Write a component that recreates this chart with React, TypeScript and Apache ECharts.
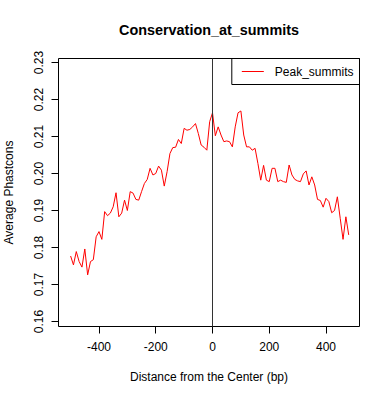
import React, { useEffect, useRef } from "react";
import * as echarts from "echarts";

const positions = [
  -500, -490, -480, -470, -460, -450, -440, -430, -420, -410,
  -400, -390, -380, -370, -360, -350, -340, -330, -320, -310,
  -300, -290, -280, -270, -260, -250, -240, -230, -220, -210,
  -200, -190, -180, -170, -160, -150, -140, -130, -120, -110,
  -100, -90, -80, -70, -60, -50, -40, -30, -20, -10,
  0, 10, 20, 30, 40, 50, 60, 70, 80, 90,
  100, 110, 120, 130, 140, 150, 160, 170, 180, 190,
  200, 210, 220, 230, 240, 250, 260, 270, 280, 290,
  300, 310, 320, 330, 340, 350, 360, 370, 380, 390,
  400, 410, 420, 430, 440, 450, 460, 470, 480,
];

const peakSummits = [
  0.1777, 0.1753, 0.1789, 0.1762, 0.1747, 0.1796, 0.1726, 0.1762, 0.1767, 0.1829,
  0.1843, 0.1822, 0.1897, 0.1886, 0.1893, 0.191, 0.1948, 0.1883, 0.1893, 0.1928,
  0.19, 0.1951, 0.1947, 0.193, 0.1928, 0.1951, 0.1973, 0.1984, 0.2014, 0.1996,
  0.2, 0.202, 0.2009, 0.1966, 0.2005, 0.2054, 0.207, 0.2071, 0.2092, 0.2081,
  0.2122, 0.2117, 0.2119, 0.2126, 0.2135, 0.2108, 0.2077, 0.2071, 0.2063, 0.214,
  0.2164, 0.2102, 0.2126, 0.2104, 0.2086, 0.2088, 0.2086, 0.2072, 0.2126, 0.2164,
  0.2169, 0.2104, 0.2072, 0.2072, 0.2063, 0.2068, 0.2027, 0.1982, 0.2022, 0.1982,
  0.1978, 0.2014, 0.2014, 0.1978, 0.1982, 0.1978, 0.1976, 0.2023, 0.1996, 0.1984,
  0.198, 0.1978, 0.1999, 0.2007, 0.1969, 0.1991, 0.1969, 0.193, 0.1927, 0.1909,
  0.1933, 0.1924, 0.1894, 0.19, 0.1937, 0.1879, 0.1822, 0.1883, 0.1834,
];

const xTicks = [-400, -200, 0, 200, 400];
const yTicks = [0.16, 0.17, 0.18, 0.19, 0.2, 0.21, 0.22, 0.23];

const FONT = "'Liberation Sans', Arial, Helvetica, sans-serif";

export default function App() {
  const ref = useRef<HTMLDivElement>(null);
  useEffect(() => {
    if (!ref.current) return;
    const chart = echarts.init(ref.current, null, { renderer: "svg" });
    chart.setOption({
      animation: false,
      textStyle: { fontFamily: FONT },
      grid: {
        left: 58.5,
        top: 58.5,
        right: 30.5,
        bottom: 73.5,
        containLabel: false,
        outerBoundsMode: "none",
        show: true,
        borderColor: "#000",
        borderWidth: 1,
        backgroundColor: "transparent",
      },
      graphic: [
        {
          type: "text",
          x: 209,
          y: 30,
          style: {
            text: "Conservation_at_summits",
            fill: "#000",
            font: "bold 14.4px " + FONT,
            textAlign: "center",
            textVerticalAlign: "middle",
          },
        },
      ],
      legend: {
        right: 30.5,
        top: 58.5,
        orient: "horizontal",
        borderColor: "#000",
        borderWidth: 1,
        borderRadius: 0,
        padding: [7, 6, 7, 10],
        icon: "rect",
        itemWidth: 22,
        itemHeight: 1,
        textStyle: { fontSize: 12, color: "#000", fontFamily: FONT, padding: [0, 0, 0, 6] },
        data: [{ name: "Peak_summits", itemStyle: { color: "#ff0000" } }],
      },
      xAxis: {
        type: "value",
        min: -542.7,
        max: 518,
        name: "Distance from the Center (bp)",
        nameLocation: "middle",
        nameGap: 44,
        nameTextStyle: { fontSize: 12, color: "#000", fontFamily: FONT },
        axisLine: { show: false, onZero: false },
        splitLine: { show: false },
        axisTick: {
          show: true,
          length: 7,
          lineStyle: { color: "#000" },
          customValues: xTicks,
        },
        axisLabel: {
          fontSize: 12,
          color: "#000",
          margin: 14,
          customValues: xTicks,
          formatter: (v: number) => String(v),
        },
      },
      yAxis: {
        type: "value",
        min: 0.15865,
        max: 0.23108,
        name: "Average Phastcons",
        nameLocation: "middle",
        nameGap: 44,
        nameTextStyle: { fontSize: 12, color: "#000", fontFamily: FONT },
        axisLine: { show: false, onZero: false },
        splitLine: { show: false },
        axisTick: {
          show: true,
          length: 7,
          lineStyle: { color: "#000" },
          customValues: yTicks,
        },
        axisLabel: {
          fontSize: 12,
          color: "#000",
          rotate: 90,
          margin: 14,
          customValues: yTicks,
          formatter: (v: number) => v.toFixed(2),
        },
      },
      series: [
        {
          name: "Peak_summits",
          type: "line",
          data: positions.map((p, i) => [p, peakSummits[i]]),
          showSymbol: false,
          symbol: "none",
          lineStyle: { color: "#ff0000", width: 1 },
          itemStyle: { color: "#ff0000" },
          markLine: {
            silent: true,
            symbol: "none",
            label: { show: false },
            lineStyle: { color: "#333", width: 1, type: "solid" },
            data: [{ xAxis: 0 }],
          },
        },
      ],
    });
    return () => chart.dispose();
  }, []);
  return (
    <div
      ref={ref}
      style={{ position: "fixed", left: 0, top: 0, width: 390, height: 400, background: "#fff" }}
    />
  );
}
